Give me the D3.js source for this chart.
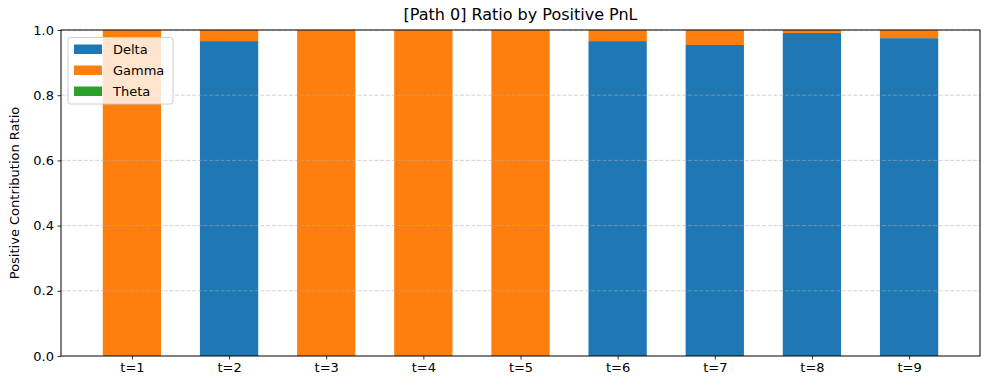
<!DOCTYPE html>
<html><head><meta charset="utf-8">
<script src="https://cdn.jsdelivr.net/npm/d3@7"></script>
<style>body{margin:0;background:#fff;font-family:"DejaVu Sans",sans-serif;}</style>
</head><body><svg id="c" width="989" height="390"></svg>
<script>
const categories = ["t=1","t=2","t=3","t=4","t=5","t=6","t=7","t=8","t=9"];
const delta = [0, 0.966, 0, 0, 0, 0.966, 0.954, 0.991, 0.975];
const gamma = [1, 0.034, 1, 1, 1, 0.034, 0.046, 0.009, 0.025];
const theta = [0, 0, 0, 0, 0, 0, 0, 0, 0];
const seriesNames = ["Delta","Gamma","Theta"];
const colors = ["#1f77b4","#ff7f0e","#2ca02c"];
const yTicks = [0,0.2,0.4,0.6,0.8,1.0];

const svg = d3.select("#c");
const m = {l:61, r:9, t:30, b:34};
const W = 989, H = 390;
const n = categories.length, bw = 0.6, pad = (n - 1 + bw) * 0.05;
const x = d3.scaleLinear().domain([-bw/2 - pad, n - 1 + bw/2 + pad]).range([m.l, W - m.r]);
const y = d3.scaleLinear().domain([0,1]).range([H - m.b, m.t]);

const data = categories.map((c,i) => ({c, i, Delta: delta[i], Gamma: gamma[i], Theta: theta[i]}));
const stack = d3.stack().keys(seriesNames)(data);
svg.append("g").selectAll("g").data(stack).join("g")
  .attr("fill", (d,k) => colors[k])
  .selectAll("rect").data(d => d).join("rect")
  .attr("x", d => x(d.data.i - bw/2))
  .attr("width", d => x(bw) - x(0))
  .attr("y", d => y(d[1]))
  .attr("height", d => y(d[0]) - y(d[1]));

// grid (drawn above bars)
svg.append("g").selectAll("line").data(yTicks.slice(1)).join("line")
  .attr("x1", m.l).attr("x2", W - m.r)
  .attr("y1", d => y(d)).attr("y2", d => y(d))
  .attr("stroke", "#b0b0b0").attr("stroke-opacity", 0.7).attr("stroke-width", 0.8)
  .attr("stroke-dasharray", "4,1.7");

// axes
const xAxis = d3.axisBottom(x).tickValues(d3.range(n)).tickFormat(i => categories[i]).tickSize(3.5).tickPadding(3.5);
const gx = svg.append("g").attr("transform", `translate(0,${H - m.b})`).call(xAxis);
const yAxis = d3.axisLeft(y).tickValues(yTicks).tickFormat(d3.format(".1f")).tickSize(3.5).tickPadding(3.5);
const gy = svg.append("g").attr("transform", `translate(${m.l},0)`).call(yAxis);
[gx, gy].forEach(g => {
  g.selectAll("text").attr("font-size", 13).attr("font-family", "DejaVu Sans, sans-serif").attr("fill", "#000");
  g.selectAll("line").attr("stroke", "#000").attr("stroke-width", 0.8);
  g.select(".domain").remove();
});
// frame
svg.append("rect").attr("x", m.l).attr("y", m.t).attr("width", W - m.r - m.l).attr("height", H - m.b - m.t)
  .attr("fill", "none").attr("stroke", "#000").attr("stroke-width", 1);

// title
svg.append("text").attr("x", (m.l + W - m.r)/2).attr("y", 20).attr("text-anchor", "middle")
  .attr("font-size", 16).attr("font-family", "DejaVu Sans, sans-serif").text("[Path 0] Ratio by Positive PnL");
// y label
svg.append("text").attr("transform", `translate(18.5,${(m.t + H - m.b)/2}) rotate(-90)`).attr("text-anchor", "middle")
  .attr("font-size", 13).attr("font-family", "DejaVu Sans, sans-serif").text("Positive Contribution Ratio");

// legend
const lg = svg.append("g").attr("transform", `translate(68,37.5)`);
lg.append("rect").attr("width", 105).attr("height", 66.5).attr("rx", 2.5)
  .attr("fill", "#fff").attr("fill-opacity", 0.8).attr("stroke", "#cccccc").attr("stroke-width", 1);
seriesNames.forEach((s,k) => {
  lg.append("rect").attr("x", 6).attr("y", 7 + k*21).attr("width", 28).attr("height", 9.5).attr("fill", colors[k]);
  lg.append("text").attr("x", 45).attr("y", 16 + k*21).attr("font-size", 13)
    .attr("font-family", "DejaVu Sans, sans-serif").text(s);
});
</script></body></html>
